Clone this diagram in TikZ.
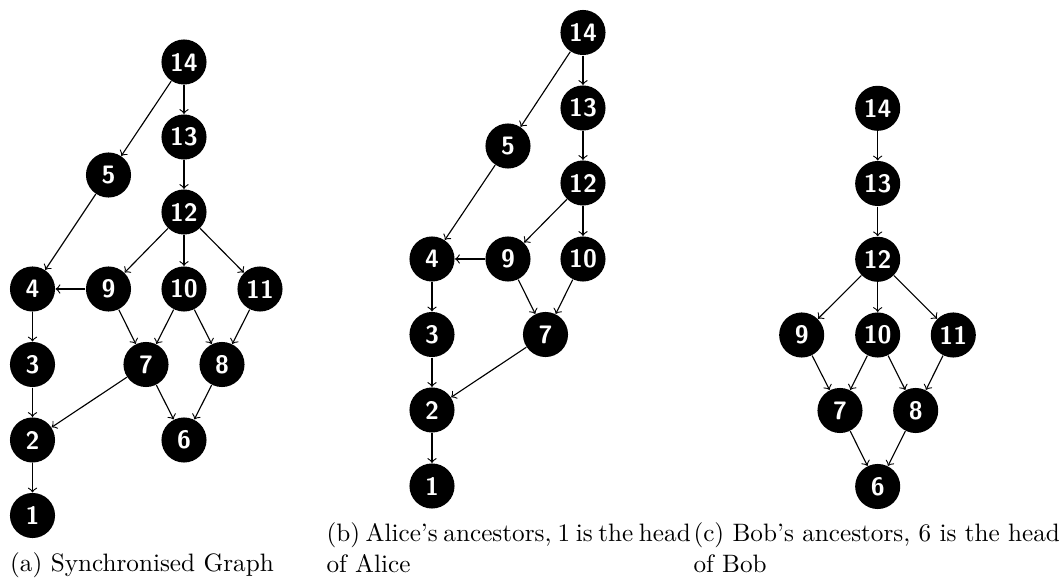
\documentclass[tikz,border=0pt]{standalone}
\begin{document}
\begin{tikzpicture}[x=0.397pt,y=-0.397pt,
  vtx/.style={circle,fill=black,text=white,font=\sffamily\bfseries,
    minimum size=17.9pt,inner sep=0pt},
  edge/.style={->,line width=0.45pt},
  captext/.style={inner sep=0pt,anchor=base west}]
\useasboundingbox (0,0) rectangle (1059,578);

% (a) synchronised graph
\node[vtx] (a14) at (184,62) {14};
\node[vtx] (a13) at (184,137) {13};
\node[vtx] (a5)  at (108.5,175) {5};
\node[vtx] (a12) at (184,212) {12};
\node[vtx] (a4)  at (32.5,289) {4};
\node[vtx] (a9)  at (108.5,289) {9};
\node[vtx] (a10) at (184,289) {10};
\node[vtx] (a11) at (260,289) {11};
\node[vtx] (a3)  at (32.5,364.5) {3};
\node[vtx] (a7)  at (146,364.5) {7};
\node[vtx] (a8)  at (222,364.5) {8};
\node[vtx] (a2)  at (32.5,440) {2};
\node[vtx] (a6)  at (184,440) {6};
\node[vtx] (a1)  at (32.5,515.5) {1};
\foreach \s/\t in {a14/a13,a14/a5,a13/a12,a5/a4,a12/a9,a12/a10,a12/a11,
  a9/a4,a9/a7,a10/a7,a10/a8,a11/a8,a4/a3,a3/a2,a7/a2,a7/a6,a8/a6,a2/a1}
  \draw[edge] (\s) -- (\t);
\node[inner sep=0pt,anchor=base] (capa) at (142,572) {(a) Synchronised Graph};

% (b) Alice's ancestors
\node[vtx] (b14) at (583,32.5) {14};
\node[vtx] (b13) at (583,108) {13};
\node[vtx] (b5)  at (508,146) {5};
\node[vtx] (b12) at (583,183) {12};
\node[vtx] (b4)  at (432,259) {4};
\node[vtx] (b9)  at (508,259) {9};
\node[vtx] (b10) at (583,259) {10};
\node[vtx] (b3)  at (432,334.5) {3};
\node[vtx] (b7)  at (545.5,334.5) {7};
\node[vtx] (b2)  at (432,410) {2};
\node[vtx] (b1)  at (432,486) {1};
\foreach \s/\t in {b14/b13,b14/b5,b5/b4,b13/b12,b12/b9,b12/b10,b9/b4,
  b9/b7,b10/b7,b4/b3,b3/b2,b7/b2,b2/b1}
  \draw[edge] (\s) -- (\t);
\node[captext] (capb) at (326,542)
  {\parbox[t]{144pt}{\hbox to 144pt{(b) Alice's ancestors, 1 is the head}of Alice}};

% (c) Bob's ancestors
\node[vtx] (c14) at (877.7,108.3) {14};
\node[vtx] (c13) at (877.7,183.5) {13};
\node[vtx] (c12) at (877.7,259.3) {12};
\node[vtx] (c9)  at (801.7,335) {9};
\node[vtx] (c10) at (877.7,335) {10};
\node[vtx] (c11) at (953.3,335) {11};
\node[vtx] (c7)  at (840,410.5) {7};
\node[vtx] (c8)  at (915.7,410.5) {8};
\node[vtx] (c6)  at (877.7,486.5) {6};
\foreach \s/\t in {c14/c13,c13/c12,c12/c9,c12/c10,c12/c11,c9/c7,c10/c7,
  c10/c8,c11/c8,c7/c6,c8/c6}
  \draw[edge] (\s) -- (\t);
\node[captext] (capc) at (693,542)
  {\parbox[t]{145.5pt}{\hbox to 145.5pt{(c) Bob's ancestors, 6 is the head}of Bob}};
\end{tikzpicture}
\end{document}
